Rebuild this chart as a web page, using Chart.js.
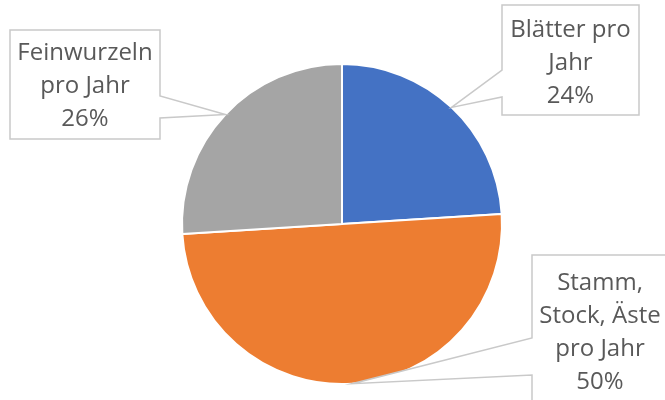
<!DOCTYPE html>
<html lang="de">
<head>
  <meta charset="UTF-8">
  <title>Biomasse pro Jahr</title>
  <style>
    html, body { margin: 0; padding: 0; background: #fff; }
    canvas { display: block; }
  </style>
</head>
<body>
  <canvas id="torte" width="665" height="400"></canvas>

  <script src="https://cdn.jsdelivr.net/npm/chart.js"></script>
  <script>
    // Daten
    const teile = [
      ['Blätter pro', 'Jahr'],
      ['Stamm,', 'Stock, Äste', 'pro Jahr'],
      ['Feinwurzeln', 'pro Jahr']
    ];
    const anteile = [24, 50, 26];
    const farben = ['#4472C4', '#ED7D31', '#A5A5A5'];

    // Lage der Beschriftungskästen: Kasten, Seite mit Spitze, Ansatz der Spitze
    const kaesten = [
      { x: 502, y: 5, w: 137, h: 110, seite: 'links', a: 70, b: 97, y0: 30 },
      { x: 532, y: 255, w: 136, h: 170, seite: 'links', a: 338, b: 375, y0: 283 },
      { x: 10, y: 30, w: 150, h: 109, seite: 'rechts', a: 96, b: 118, y0: 53 }
    ];

    const beschriftung = {
      id: 'beschriftung',
      afterDraw(chart) {
        const ctx = chart.ctx;
        const meta = chart.getDatasetMeta(0);
        meta.data.forEach((arc, i) => {
          const k = kaesten[i];
          const mitte = (arc.startAngle + arc.endAngle) / 2;
          const sx = arc.x + Math.cos(mitte) * arc.outerRadius;
          const sy = arc.y + Math.sin(mitte) * arc.outerRadius;

          ctx.save();
          ctx.beginPath();
          if (k.seite === 'links') {
            ctx.moveTo(k.x, k.y);
            ctx.lineTo(k.x + k.w, k.y);
            ctx.lineTo(k.x + k.w, k.y + k.h);
            ctx.lineTo(k.x, k.y + k.h);
            ctx.lineTo(k.x, k.b);
            ctx.lineTo(sx, sy);
            ctx.lineTo(k.x, k.a);
          } else {
            ctx.moveTo(k.x, k.y);
            ctx.lineTo(k.x + k.w, k.y);
            ctx.lineTo(k.x + k.w, k.a);
            ctx.lineTo(sx, sy);
            ctx.lineTo(k.x + k.w, k.b);
            ctx.lineTo(k.x + k.w, k.y + k.h);
            ctx.lineTo(k.x, k.y + k.h);
          }
          ctx.closePath();
          ctx.fillStyle = '#fff';
          ctx.fill();
          ctx.strokeStyle = '#C9C9C9';
          ctx.lineWidth = 1.5;
          ctx.stroke();

          const zeilen = teile[i].concat([anteile[i] + '%']);
          ctx.fillStyle = '#595959';
          ctx.font = '24px "Open Sans", sans-serif';
          ctx.textAlign = 'center';
          ctx.textBaseline = 'middle';
          const mx = k.x + k.w / 2;
          zeilen.forEach((z, j) => ctx.fillText(z, mx, k.y0 + j * 33));
          ctx.restore();
        });
      }
    };

    new Chart(document.getElementById('torte'), {
      type: 'pie',
      data: {
        labels: teile,
        datasets: [{
          data: anteile,
          backgroundColor: farben,
          borderColor: '#fff',
          borderWidth: 2
        }]
      },
      options: {
        responsive: false,
        animation: false,
        layout: { padding: { left: 181, right: 162, top: 63, bottom: 15 } },
        plugins: {
          legend: { display: false },
          tooltip: { enabled: false }
        }
      },
      plugins: [beschriftung]
    });
  </script>
</body>
</html>
